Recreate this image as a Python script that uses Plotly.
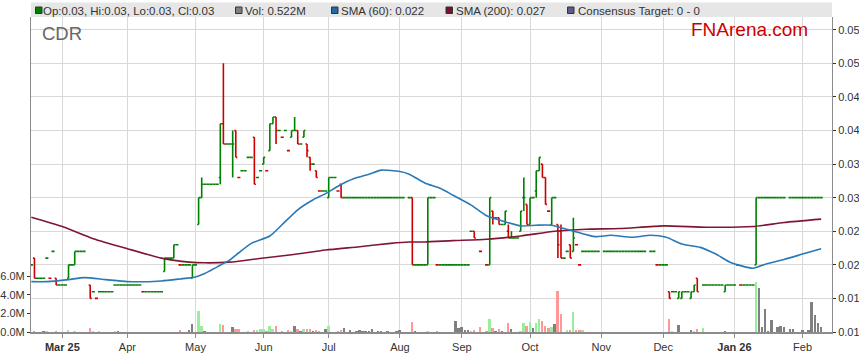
import pandas as pd
import plotly.graph_objects as go

N = None

# ---- trading calendar (weekdays; the source has no row for 2025-08-25) ----
missing_day = "2025-08-25"
trade_days = [d.strftime("%Y-%m-%d") for d in pd.bdate_range("2025-02-17", "2026-02-10")
              if d.strftime("%Y-%m-%d") != missing_day]

# ---- daily OHLC (one row per week) ----
opens = [
    .020, .021, .018, .018, .018,   # Feb 17
    .021, .018, .022, .018, .017,   # Feb 24
    .017, .017, .018, .020, .020,   # Mar 3
    .022, .022, .022, N, .017,      # Mar 10
    .016, .015, .016, .016, .016,   # Mar 17
    .016, .016, .017, .017, .017,   # Mar 24
    .017, .017, .017, .017, .017,   # Mar 31
    .017, .016, .016, .016, .016,   # Apr 7
    .016, .016, .016, .019, .021,   # Apr 14
    .021, .021, .023, .020, .020,   # Apr 21
    .020, .020, .018, .020, .026,   # Apr 28
    .030, .032, .032, .032, .032,   # May 5
    .032, .033, .041, .038, .038,   # May 12
    .038, .040, .033, .034, .034,   # May 19
    .036, .036, .039, .033, .034,   # May 26
    .035, .034, .037, .041, .042,   # Jun 2
    .040, .039, .040, .037, .039,   # Jun 9
    .040, .040, .038, .039, .038,   # Jun 16
    .036, .035, .034, .031, .031,   # Jun 23
    .031, .030, .033, .033, .031,   # Jun 30
    .032, .030, .030, .030, .030,   # Jul 7
    .030, .030, .030, .030, .030,   # Jul 14
    .030, .030, .030, .030, .030,   # Jul 21
    .030, .030, .030, .030, .030,   # Jul 28
    .030, N, .030, .030, .020,      # Aug 4
    .020, .020, .020, .020, .030,   # Aug 11
    .030, .020, .020, .020, .020,   # Aug 18
    .020, .020, .020, .020,         # Aug 26
    .020, .020, .020, .025, .025,   # Sep 1
    N, .022, N, .020, .020,         # Sep 8
    .028, .027, .027, .026, .026,   # Sep 15
    .025, .024, .024, .024, .025,   # Sep 22
    .030, .029, .026, .030, .031,   # Sep 29
    .034, .035, .033, .028, .026,   # Oct 6
    .030, .026, .025, .021, .022,   # Oct 13
    .023, .022, .023, .020, .022,   # Oct 20
    .022, .022, .022, .022, .022,   # Oct 27
    N, .022, .022, .022, .022,      # Nov 3
    .022, .022, .022, .022, .022,   # Nov 10
    .022, .022, .022, .022, .022,   # Nov 17
    N, .022, .022, .020, .020,      # Nov 24
    .020, .020, .016, .016, .016,   # Dec 1
    .015, .015, .016, .016, .015,   # Dec 8
    .016, .018, N, .017, .017,      # Dec 15
    .017, .017, .017, .017, .017,   # Dec 22
    .016, .017, .017, .017, .020,   # Dec 29
    .017, .017, .017, .017, .017,   # Jan 5
    .020, .030, .030, .030, .030,   # Jan 12
    .030, .030, .030, .030, .030,   # Jan 19
    N, .030, .030, .030, .030,      # Jan 26
    .030, .030, .030, .030, .030,   # Feb 2
    .030, .030,                     # Feb 9
]
highs = [
    .020, .021, .018, .018, .018,
    .021, .018, .022, .018, .017,
    .017, .017, .020, .020, .022,
    .022, .022, .022, N, .017,
    .016, .015, .016, .016, .016,
    .016, .016, .017, .017, .017,
    .017, .017, .017, .017, .017,
    .017, .016, .016, .016, .016,
    .016, .016, .016, .021, .021,
    .021, .023, .023, .020, .020,
    .020, .020, .020, .020, .030,
    .033, .032, .032, .032, .032,
    .032, .041, .050, .038, .038,
    .040, .040, .033, .034, .034,
    .036, .036, .039, .033, .034,
    .036, .034, .041, .042, .042,
    .040, .039, .040, .037, .040,
    .042, .040, .038, .040, .038,
    .036, .035, .034, .031, .031,
    .031, .033, .033, .033, .031,
    .032, .030, .030, .030, .030,
    .030, .030, .030, .030, .030,
    .030, .030, .030, .030, .030,
    .030, .030, .030, .030, .030,
    .030, N, .030, .030, .020,
    .020, .020, .020, .030, .030,
    .030, .020, .020, .020, .020,
    .020, .020, .020, .020,
    .020, .020, .020, .025, .025,
    N, .022, N, .020, .030,
    .028, .027, .027, .026, .028,
    .026, .025, .024, .024, .028,
    .033, .029, .030, .030, .034,
    .036, .035, .033, .028, .030,
    .030, .026, .026, .021, .022,
    .023, .027, .023, .020, .022,
    .022, .022, .022, .022, .022,
    N, .022, .022, .022, .022,
    .022, .022, .022, .022, .022,
    .022, .022, .022, .022, .022,
    N, .022, .022, .020, .020,
    .020, .020, .016, .016, .016,
    .016, .016, .016, .016, .016,
    .017, .018, N, .017, .017,
    .017, .017, .017, .017, .017,
    .017, .017, .017, .017, .020,
    .017, .017, .017, .017, .017,
    .030, .030, .030, .030, .030,
    .030, .030, .030, .030, .030,
    N, .030, .030, .030, .030,
    .030, .030, .030, .030, .030,
    .030, .030,
]
lows = [
    .020, .018, .018, .018, .018,
    .021, .018, .022, .017, .017,
    .017, .017, .018, .020, .020,
    .022, .022, .022, N, .015,
    .016, .015, .016, .016, .016,
    .016, .016, .017, .017, .017,
    .017, .017, .017, .017, .017,
    .017, .016, .016, .016, .016,
    .016, .016, .016, .019, .021,
    .021, .021, .023, .020, .020,
    .020, .020, .018, .020, .026,
    .030, .032, .032, .032, .032,
    .032, .032, .038, .038, .038,
    .033, .036, .033, .034, .034,
    .036, .036, .032, .033, .034,
    .035, .034, .037, .041, .038,
    .040, .039, .040, .037, .039,
    .040, .038, .038, .039, .036,
    .034, .035, .033, .031, .031,
    .031, .030, .033, .033, .031,
    .030, .030, .030, .030, .030,
    .030, .030, .030, .030, .030,
    .030, .030, .030, .030, .030,
    .030, .030, .030, .030, .030,
    .030, N, .030, .020, .020,
    .020, .020, .020, .020, .030,
    .030, .020, .020, .020, .020,
    .020, .020, .020, .020,
    .020, .020, .020, .025, .024,
    N, .022, N, .020, .020,
    .026, .027, .026, .026, .026,
    .024, .024, .024, .024, .025,
    .028, .026, .026, .030, .030,
    .034, .033, .029, .028, .026,
    .030, .021, .021, .021, .022,
    .021, .022, .023, .020, .022,
    .022, .022, .022, .022, .022,
    N, .022, .022, .022, .022,
    .022, .022, .022, .022, .022,
    .022, .022, .022, .022, .022,
    N, .022, .022, .020, .020,
    .020, .020, .015, .016, .016,
    .015, .015, .016, .016, .015,
    .016, .016, N, .017, .017,
    .017, .017, .017, .017, .017,
    .016, .017, .017, .017, .020,
    .017, .017, .017, .017, .017,
    .020, .030, .030, .030, .030,
    .030, .030, .030, .030, .030,
    N, .030, .030, .030, .030,
    .030, .030, .030, .030, .030,
    .030, .030,
]
closes = [
    .020, .018, .018, .018, .018,
    .021, .018, .022, .017, .017,
    .017, .017, .020, .020, .022,
    .022, .022, .022, N, .015,
    .016, .015, .016, .016, .016,
    .016, .016, .017, .017, .017,
    .017, .017, .017, .017, .017,
    .017, .016, .016, .016, .016,
    .016, .016, .016, .021, .021,
    .021, .023, .023, .020, .020,
    .020, .020, .020, .020, .030,
    .032, .032, .032, .032, .032,
    .032, .041, .038, .038, .038,
    .038, .036, .033, .034, .034,
    .036, .036, .032, .033, .034,
    .036, .034, .041, .042, .040,
    .040, .039, .040, .037, .040,
    .040, .038, .038, .040, .037,
    .035, .035, .033, .031, .031,
    .031, .033, .033, .033, .031,
    .030, .030, .030, .030, .030,
    .030, .030, .030, .030, .030,
    .030, .030, .030, .030, .030,
    .030, .030, .030, .030, .030,
    .030, N, .030, .020, .020,
    .020, .020, .020, .030, .030,
    .030, .020, .020, .020, .020,
    .020, .020, .020, .020,
    .020, .020, .020, .025, .024,
    N, .022, N, .020, .030,
    .027, .027, .026, .026, .028,
    .024, .024, .024, .024, .028,
    .030, .026, .030, .030, .034,
    .036, .033, .029, .028, .030,
    .030, .023, .021, .021, .022,
    .021, .024, .023, .020, .022,
    .022, .022, .022, .022, .022,
    N, .022, .022, .022, .022,
    .022, .022, .022, .022, .022,
    .022, .022, .022, .022, .022,
    N, .022, .022, .020, .020,
    .020, .020, .015, .016, .016,
    .016, .016, .016, .016, .016,
    .017, .016, N, .017, .017,
    .017, .017, .017, .017, .017,
    .017, .017, .017, .017, .020,
    .017, .017, .017, .017, .017,
    .030, .030, .030, .030, .030,
    .030, .030, .030, .030, .030,
    N, .030, .030, .030, .030,
    .030, .030, .030, .030, .030,
    .030, .030,
]
volume_m = [
    0, 0.05, 0, 0, 0.1,
    0.1, 0, 0, 0.1, 0,
    0, 0, 0.25, 0, 0.1,
    0, 0, 0, 0, 0.45,
    0.1, 0, 0.1, 0, 0,
    0, 0, 0.1, 0.1, 0,
    0, 0, 0, 0, 0,
    0, 0, 0, 0, 0,
    0, 0, 0, 0, 0,
    0, 0, 0, 0.25, 0,
    0, 0.15, 0.9, 0, 2.25,
    0.7, 0.1, 0, 0, 0,
    0, 0.9, 0.77, 0, 0,
    0.55, 0.35, 0.35, 0, 0,
    0.05, 0, 0.2, 0.25, 0.3,
    0.3, 0.05, 0.7, 0.35, 0.65,
    0, 0.05, 0, 0.25, 0.1,
    0.7, 0.35, 0.05, 0.35, 0.3,
    0.3, 0.05, 0.25, 0.05, 0,
    0.3, 0.6, 0, 0, 0.05,
    0.2, 0.45, 0, 0.2, 0,
    0.1, 0.18, 0.1, 0.1, 0.1,
    0.29, 0, 0.1, 0.1, 0,
    0.1, 0, 0, 0.1, 0.2,
    0, 0, 0, 1.07, 0.05,
    0, 0, 0, 0.05, 0,
    0, 0.05, 0, 0, 0,
    0, 0, 1.2, 0.45,
    0.5, 0.2, 0.2, 0.1, 0.2,
    0, 0.5, 0, 0.1, 1.4,
    0.45, 0.1, 0.3, 0.1, 0,
    1.0, 0.35, 0, 0, 0.1,
    1.0, 0.6, 1.07, 0.43, 1.0,
    1.36, 1.18, 0.64, 0.43, 0.54,
    0.9, 4.4, 1.9, 0, 0.25,
    0.14, 2.2, 0.18, 0.18, 0.25,
    0, 0, 0, 0, 0,
    0, 0, 0, 0, 0,
    0, 0, 0, 0, 0,
    0, 0, 0, 0, 0,
    0, 0, 0, 0, 0,
    0, 0, 1.43, 0.1, 0,
    0.79, 0, 0, 0, 0.25,
    0.05, 0.36, 0, 0.46, 0,
    0, 0, 0, 0, 0,
    0.05, 0, 0, 0, 0,
    0, 0, 0, 0, 0,
    5.36, 4.7, 0.58, 2.5, 0.1,
    1.33, 0, 0.58, 0.68, 0.58,
    0, 0.36, 0.36, 0, 0,
    0.14, 0, 0.18, 3.27, 1.8,
    0.97, 0.522,
]

# ---- moving averages ----
sma60_dates = ["2025-02-17", "2025-02-24", "2025-03-05", "2025-03-12", "2025-03-21", "2025-04-01",
               "2025-04-16", "2025-04-24", "2025-05-01", "2025-05-06", "2025-05-12", "2025-05-16",
               "2025-05-21", "2025-05-27", "2025-06-04", "2025-06-10", "2025-06-17", "2025-06-24",
               "2025-06-30", "2025-07-04", "2025-07-11", "2025-07-18", "2025-07-24", "2025-08-01",
               "2025-08-06", "2025-08-13", "2025-08-20", "2025-08-27", "2025-09-04", "2025-09-11",
               "2025-09-19", "2025-09-26", "2025-10-03", "2025-10-10", "2025-10-16", "2025-10-22",
               "2025-10-30", "2025-11-06", "2025-11-17", "2025-11-25", "2025-12-02", "2025-12-09",
               "2025-12-17", "2025-12-24", "2025-12-31", "2026-01-09", "2026-01-15", "2026-01-23",
               "2026-02-02", "2026-02-10"]
sma60_values = [.0175, .0175, .0178, .0181, .0178, .0175, .0176, .0179, .0182, .0187, .0197, .0207,
                .0218, .0232, .0243, .0260, .0282, .0297, .0306, .0317, .0328, .0335, .0341, .0339,
                .0335, .0322, .0314, .0304, .0289, .0273, .0264, .0258, .0259, .0259, .0254, .0249,
                .0242, .0244, .0241, .0244, .0241, .0231, .0226, .0216, .0203, .0195, .0201, .0208,
                .0216, .0224]
sma200_dates = ["2025-02-17", "2025-03-03", "2025-03-17", "2025-04-01", "2025-04-16", "2025-04-29",
                "2025-05-06", "2025-05-16", "2025-05-29", "2025-06-13", "2025-06-30", "2025-07-15",
                "2025-07-29", "2025-08-06", "2025-08-13", "2025-08-27", "2025-09-11", "2025-09-26",
                "2025-10-13", "2025-10-27", "2025-11-11", "2025-12-01", "2025-12-19", "2026-01-09",
                "2026-01-23", "2026-02-10"]
sma200_values = [.0271, .0257, .0239, .0224, .0210, .0204, .0203, .0204, .0209, .0215, .0222, .0227,
                 .0232, .0234, .0234, .0236, .0238, .0243, .0250, .0253, .0254, .0258, .0256, .0257,
                 .0263, .0268]

month_ticks = ["2025-03-03", "2025-04-01", "2025-05-01", "2025-06-02", "2025-07-01", "2025-08-01",
               "2025-09-01", "2025-10-01", "2025-11-03", "2025-12-01", "2026-01-01", "2026-02-02"]
month_labels = ["<b>Mar 25</b>", "Apr", "May", "Jun", "Jul", "Aug", "Sep", "Oct", "Nov", "Dec",
                "<b>Jan 26</b>", "Feb"]
price_ticks = [0.010, 0.015, 0.020, 0.025, 0.030, 0.035, 0.040, 0.045, 0.050, 0.055]
vol_ticks = [0, 2, 4, 6]
vol_labels = ["0.0M", "2.0M", "4.0M", "6.0M"]

n = len(trade_days)
for name, arr in [("opens", opens), ("highs", highs), ("lows", lows), ("closes", closes), ("volume_m", volume_m)]:
    assert len(arr) == n, (name, len(arr), n)

# ---- styling ----
GREEN = "#008000"
RED = "#cc0000"
V_GREEN = "#99ee99"
V_RED = "#ff9999"
V_GRAY = "#808080"
BLUE = "#2a78b5"
MAROON = "#7f1734"
GRID = "#d9d9d9"
AXIS = "#8c8c8c"
FONT = "Arial, Liberation Sans, sans-serif"


def mid(d):
    return d + " 12:00"


xs = [mid(d) for d in trade_days]

up = {"x": [], "open": [], "high": [], "low": [], "close": []}
dn = {"x": [], "open": [], "high": [], "low": [], "close": []}
vol_colors = []
prev = None
for xi, o, h, l, c in zip(xs, opens, highs, lows, closes):
    if c is None:
        vol_colors.append(V_GRAY)
        continue
    if c > o:
        rising = True
    elif c < o:
        rising = False
    else:
        rising = prev is None or c >= prev
    tgt = up if rising else dn
    tgt["x"].append(xi)
    tgt["open"].append(o)
    tgt["high"].append(h)
    tgt["low"].append(l)
    tgt["close"].append(c)
    if prev is None or c == prev:
        vol_colors.append(V_GRAY)
    elif c > prev:
        vol_colors.append(V_GREEN)
    else:
        vol_colors.append(V_RED)
    prev = c

fig = go.Figure()
fig.add_trace(go.Bar(x=xs, y=volume_m, marker=dict(color=vol_colors, line=dict(width=0)),
                     width=0.62 * 86400000, yaxis="y", hoverinfo="skip", showlegend=False))
fig.add_trace(go.Scatter(x=[mid(d) for d in sma200_dates], y=sma200_values, mode="lines", yaxis="y2",
                         line=dict(color=MAROON, width=1.6, shape="spline", smoothing=0.6),
                         hoverinfo="skip", showlegend=False))
fig.add_trace(go.Scatter(x=[mid(d) for d in sma60_dates], y=sma60_values, mode="lines", yaxis="y2",
                         line=dict(color=BLUE, width=1.6, shape="spline", smoothing=0.6),
                         hoverinfo="skip", showlegend=False))
for data, col in [(up, GREEN), (dn, RED)]:
    fig.add_trace(go.Ohlc(x=data["x"], open=data["open"], high=data["high"], low=data["low"],
                          close=data["close"], yaxis="y2", tickwidth=0.495,
                          increasing=dict(line=dict(color=col, width=1.6)),
                          decreasing=dict(line=dict(color=col, width=1.6)),
                          hoverinfo="skip", showlegend=False))

W, H = 859, 363
L, R, T, B = 31, 27, 17, 31
PW, PH = W - L - R, H - T - B


def px(xp):
    return (xp - L) / PW


def py(yp):
    return (H - B - yp) / PH


shapes = [dict(type="rect", xref="paper", yref="paper", x0=0, x1=1, y0=py(17), y1=py(2.5),
               fillcolor="#e6e6e6", line=dict(width=0), layer="below")]
legend_items = [
    (35.5, 43, GREEN, "Op:0.03, Hi:0.03, Lo:0.03, Cl:0.03"),
    (235.5, 245, "#808080", "Vol: 0.522M"),
    (331.5, 341, "#1f6aa8", "SMA (60): 0.022"),
    (446, 456, "#7a1030", "SMA (200): 0.027"),
    (567.5, 578, "#5a5a8c", "Consensus Target: 0 - 0"),
]
annotations = []
for sx, tx, col, txt in legend_items:
    shapes.append(dict(type="rect", xref="paper", yref="paper", x0=px(sx), x1=px(sx + 6.5),
                       y0=py(13.5), y1=py(7), fillcolor=col, line=dict(color="#333333", width=1)))
    annotations.append(dict(xref="paper", yref="paper", x=px(tx - 2), y=py(10.5), xanchor="left",
                            yanchor="middle", text=txt, showarrow=False,
                            font=dict(family=FONT, size=11.5, color="#333333")))
annotations.append(dict(xref="paper", yref="paper", x=px(40), y=py(33), xanchor="left", yanchor="middle",
                        text="CDR", showarrow=False, font=dict(family=FONT, size=18.5, color="#666666")))
annotations.append(dict(xref="paper", yref="paper", x=px(810), y=py(30), xanchor="right", yanchor="middle",
                        text="FNArena.com", showarrow=False, font=dict(family=FONT, size=19, color=RED)))

fig.update_layout(
    width=W, height=H, margin=dict(l=L, r=R, t=T, b=B, pad=0, autoexpand=False),
    paper_bgcolor="white", plot_bgcolor="white",
    font=dict(family=FONT, size=11, color="#333333"),
    showlegend=False, bargap=0,
    shapes=shapes, annotations=annotations,
    xaxis=dict(type="date", range=["2025-02-17 09:13", "2026-02-14 00:00"], automargin=False,
               rangebreaks=[dict(bounds=["sat", "mon"]), dict(values=[missing_day])],
               rangeslider=dict(visible=False),
               tickmode="array", tickvals=[mid(d) for d in month_ticks], ticktext=month_labels,
               showgrid=True, gridcolor=GRID, gridwidth=1, zeroline=False,
               showline=True, linecolor=AXIS, linewidth=1.5,
               ticks="outside", ticklen=4, tickcolor=AXIS,
               tickfont=dict(family=FONT, size=11, color="#333333")),
    yaxis=dict(range=[0, 34], side="left", tickmode="array", tickvals=vol_ticks, ticktext=vol_labels,
               automargin=False,
               showgrid=False, zeroline=False, showline=True, linecolor=AXIS, linewidth=1,
               ticks="outside", ticklen=3, tickcolor="#333333",
               tickfont=dict(family=FONT, size=11, color="#333333")),
    yaxis2=dict(range=[0.010, 0.0569], side="right", overlaying="y", tickmode="array",
                tickvals=price_ticks, tickformat=".3f", automargin=False,
                showgrid=True, gridcolor=GRID, gridwidth=1, zeroline=False,
                showline=True, linecolor=AXIS, linewidth=1,
                ticks="outside", ticklen=3, tickcolor="#333333",
                tickfont=dict(family=FONT, size=11, color="#333333")),
)

# place the figure at the page's top-left corner (no default body margin), no toolbar
fig.write_html("out.html", config={"displayModeBar": False},
               post_script="document.body.style.margin='0';")
